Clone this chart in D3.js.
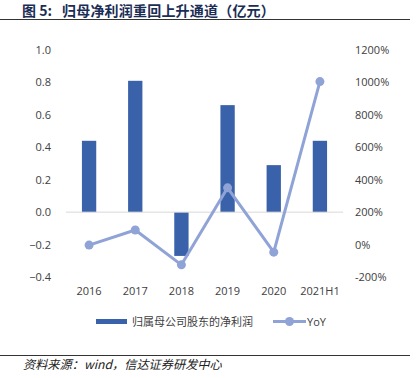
<!DOCTYPE html>
<html><head><meta charset="utf-8">
<script src="https://cdn.jsdelivr.net/npm/d3@7"></script>
<style>
body{margin:0;background:#fff;}
svg{display:block;}
</style></head><body>
<svg id="c" width="416" height="378"></svg>
<script>
const categories = ["2016","2017","2018","2019","2020","2021H1"];
const netProfit = [0.44, 0.81, -0.27, 0.66, 0.29, 0.44];
const yoy = [-3, 90, -125, 350, -47, 1005];
const leftTicks = [-0.4,-0.2,0,0.2,0.4,0.6,0.8,1.0];
const rightTicks = [-200,0,200,400,600,800,1000,1200];

const svg = d3.select("#c");
const fontCN = "'Noto Sans CJK SC', 'Noto Sans', sans-serif";
const fontAx = "'Open Sans', 'Noto Sans', sans-serif";

// title
svg.append("text").attr("x",22).attr("y",16)
  .attr("font-family",fontCN).attr("font-weight","bold").attr("font-size",14)
  .attr("fill","#1a2d55").text("图 5:");
svg.append("text").attr("x",62).attr("y",16)
  .attr("font-family",fontCN).attr("font-weight","bold").attr("font-size",14)
  .attr("letter-spacing",0.2)
  .attr("fill","#1a2d55").text("归母净利润重回上升通道（亿元）");
svg.append("line").attr("x1",0).attr("x2",410).attr("y1",19.5).attr("y2",19.5)
  .attr("stroke","#333").attr("stroke-width",1);

const x = d3.scaleBand().domain(categories).range([66,343]).paddingInner(0.69).paddingOuter(0.345);
const yL = d3.scaleLinear().domain([-0.4,1.0]).range([277,50]);
const yR = d3.scaleLinear().domain([-200,1200]).range([277,50]);

// left axis
const gl = svg.append("g").attr("transform","translate(51,0)")
  .call(d3.axisLeft(yL).tickValues(leftTicks).tickFormat(d3.format(".1f")).tickSize(0).tickPadding(0));
gl.select(".domain").remove();
gl.selectAll("text").attr("font-family",fontAx).attr("font-size",11).attr("fill","#404040");

// right axis
const gr = svg.append("g").attr("transform","translate(355,0)")
  .call(d3.axisRight(yR).tickValues(rightTicks).tickFormat(d=>d+"%").tickSize(0).tickPadding(0));
gr.select(".domain").remove();
gr.selectAll("text").attr("font-family",fontAx).attr("font-size",11).attr("fill","#404040");

// bars
svg.append("g").selectAll("rect").data(categories).join("rect")
  .attr("x",d=>x(d)).attr("width",x.bandwidth())
  .attr("y",(d,i)=>yL(Math.max(0,netProfit[i])))
  .attr("height",(d,i)=>Math.abs(yL(netProfit[i])-yL(0)))
  .attr("fill","#3A62AA");

// zero line
svg.append("line").attr("x1",66).attr("x2",343).attr("y1",yL(0)).attr("y2",yL(0))
  .attr("stroke","#d9d9d9").attr("stroke-width",1);

// x labels
const gx = svg.append("g").attr("transform","translate(0,287)")
  .call(d3.axisBottom(x).tickSize(0).tickPadding(0));
gx.select(".domain").remove();
gx.selectAll("text").attr("font-family",fontAx).attr("font-size",11).attr("fill","#404040");

// line
const lineColor = "#8FA3D6";
const line = d3.line().x((d,i)=>x(categories[i])+x.bandwidth()/2).y(d=>yR(d));
svg.append("path").datum(yoy).attr("d",line).attr("fill","none")
  .attr("stroke",lineColor).attr("stroke-width",3).attr("stroke-linejoin","round");
svg.append("g").selectAll("circle").data(yoy).join("circle")
  .attr("cx",(d,i)=>x(categories[i])+x.bandwidth()/2).attr("cy",d=>yR(d))
  .attr("r",4.5).attr("fill",lineColor);

// legend
svg.append("rect").attr("x",96).attr("y",319).attr("width",31).attr("height",5).attr("fill","#3A62AA");
svg.append("text").attr("x",132).attr("y",325.5).attr("font-family",fontCN).attr("font-size",11)
  .attr("fill","#404040").text("归属母公司股东的净利润");
svg.append("line").attr("x1",273).attr("x2",306).attr("y1",321.5).attr("y2",321.5)
  .attr("stroke",lineColor).attr("stroke-width",3);
svg.append("circle").attr("cx",289.5).attr("cy",321.5).attr("r",4.5).attr("fill",lineColor);
svg.append("text").attr("x",307).attr("y",325.5).attr("font-family",fontAx).attr("font-size",11)
  .attr("fill","#404040").text("YoY");

// footer
svg.append("line").attr("x1",0).attr("x2",410).attr("y1",355.5).attr("y2",355.5)
  .attr("stroke","#333").attr("stroke-width",1);
svg.append("text").attr("x",23).attr("y",369).attr("font-family",fontCN).attr("font-size",12.2)
  .attr("font-style","italic").attr("fill","#222").text("资料来源：wind，信达证券研发中心");
</script>
</body></html>
